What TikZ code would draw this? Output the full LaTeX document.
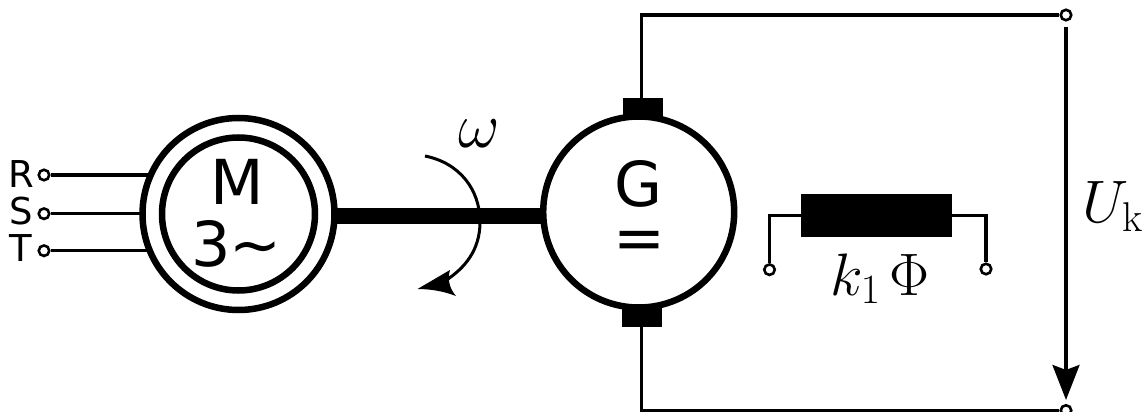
\documentclass[tikz,border=0pt]{standalone}
\usepackage{fontspec}
\newfontfamily\dejavu{DejaVu Sans}
\DeclareMathSizes{24.88}{24.88}{17.28}{12.44}
\usetikzlibrary{arrows.meta}
\tikzset{
  term/.style={circle,draw=black,fill=white,line width=2.6pt,inner sep=0pt,minimum size=10.5pt},
  ring/.style={circle,draw=black,line width=6.5pt,inner sep=0pt},
  wire/.style={line width=3.1pt},
  brush/.style={fill=black,inner sep=0pt,minimum width=40pt,minimum height=20pt},
  bigtxt/.style={inner sep=0pt,anchor=base,font=\dejavu\fontsize{62}{70}\selectfont},
  midtxt/.style={inner sep=0pt,anchor=base,font=\dejavu\fontsize{37}{40}\selectfont},
  mathtxt/.style={inner sep=0pt,anchor=base,font=\Huge,scale=2.41},
}
\begin{document}
\begin{tikzpicture}[x=1pt,y=-1pt]
\useasboundingbox (0,0) rectangle (1148,412);
% shaft
\coordinate (shaftL) at (335,215.5);
\coordinate (shaftR) at (545,215.5);
\draw[line width=16pt] (shaftL) -- (shaftR);
% motor
\node[ring,fill=white,minimum size=192pt] (motorO) at (238.5,214) {};
\node[ring,fill=white,minimum size=153pt] (motorI) at (238.5,214) {};
\node[bigtxt] (mM) at (237.7,204) {M};
\node[bigtxt] (m3) at (236.5,266.5) {3\kern-1pt\char"223C};
% three-phase terminals
\node[term] (tR) at (44,175) {};
\node[term] (tS) at (44,213.7) {};
\node[term] (tT) at (44,250.7) {};
\coordinate (wR) at (148,175);
\coordinate (wS) at (141,213.7);
\coordinate (wT) at (148,250.7);
\draw[wire] (tR.east) -- (wR);
\draw[wire] (tS.east) -- (wS);
\draw[wire] (tT.east) -- (wT);
\node[midtxt] (lR) at (21.5,187) {R};
\node[midtxt] (lS) at (21,224.5) {S};
\node[midtxt] (lT) at (21,261.7) {T};
% rotation
\draw[line width=3pt] (425,156) .. controls (460,163) and (480,190) .. (480,222)
  .. controls (480,250) and (465,268) .. (445,281);
\fill (417.5,289) -- (450,270) .. controls (447,280) and (450,289) .. (456,296) .. controls (443,291) and (430,289) .. cycle;
\node[mathtxt,scale=1.07] (om) at (479.5,147) {$\omega$};
% generator
\node[brush] (bT) at (642.5,108) {};
\node[brush] (bB) at (641.7,317) {};
\node[ring,fill=white,minimum size=191pt] (gen) at (638.7,212) {};
\node[bigtxt] (gG) at (638.5,206.5) {G};
\node[bigtxt] (gEq) at (639.5,259.5) {=};
% output circuit
\node[term] (tTop) at (1066,15) {};
\node[term] (tBot) at (1066,410.5) {};
\coordinate (bTw) at (641.3,98);
\coordinate (bBw) at (641.3,327);
\coordinate (uStart) at (1066,27);
\draw[wire] (bTw) |- (tTop.west);
\draw[wire] (bBw) |- (tBot.west);
\draw[wire,-{Stealth[length=35pt,width=27pt,inset=5pt]},shorten >=4pt] (uStart) -- (tBot.north);
\node[mathtxt] (uk) at (1113,222.7) {$U_{\mathrm{k}}$};
% field winding
\node[fill=black,inner sep=0pt,minimum width=151pt,minimum height=42.7pt] (field) at (876.5,215.4) {};
\node[term] (tL) at (769.5,269.7) {};
\node[term] (tRr) at (986,269) {};
\draw[wire] (field.west) -| (tL.north);
\draw[wire] (field.east) -| (tRr.north);
\node[mathtxt] (kphi) at (880,295) {$k_1\mkern2.5mu\Phi$};
\end{tikzpicture}
\end{document}
